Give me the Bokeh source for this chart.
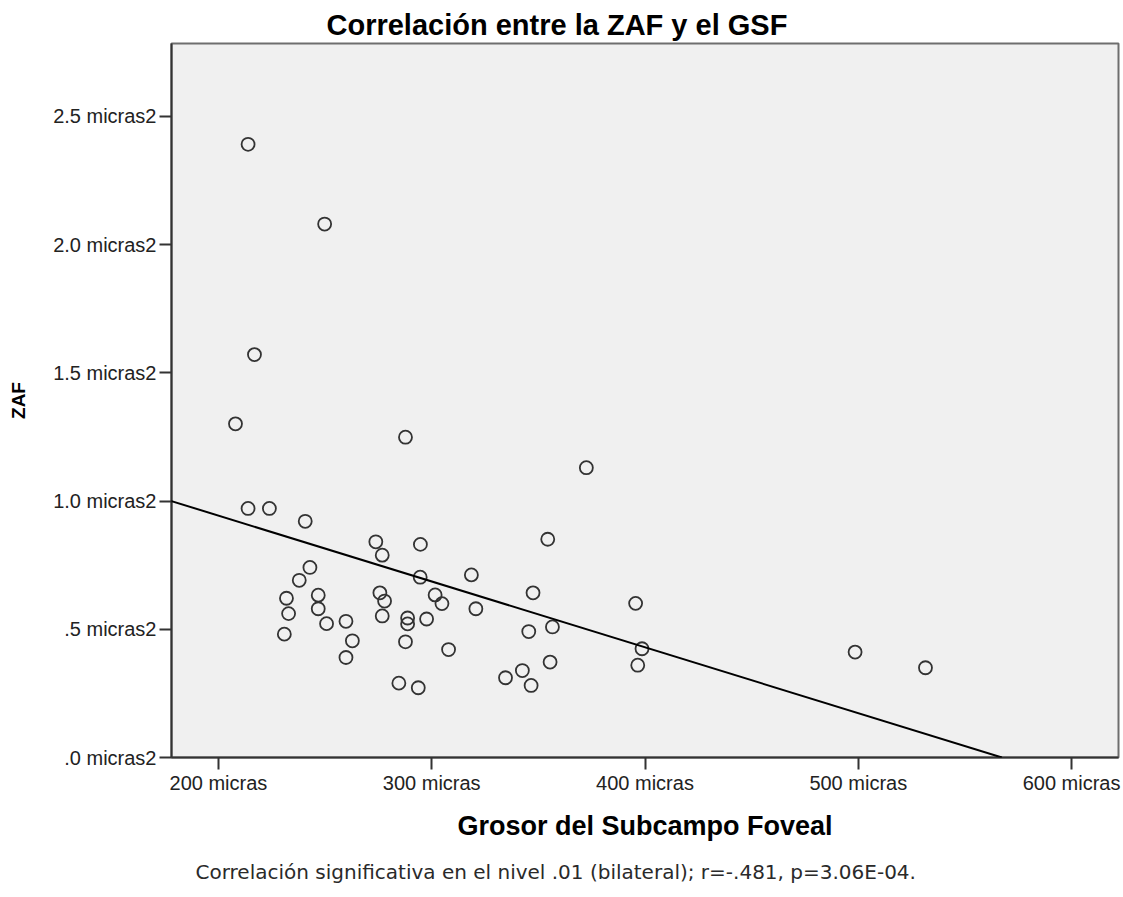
import numpy as np
from bokeh.plotting import figure
from bokeh.models import Title, FixedTicker, Range1d, Slope
from bokeh.embed import file_html
from bokeh.resources import INLINE

# Grosor del Subcampo Foveal (micras) and ZAF (micras2)
gsf = [294.7, 318.6, 242.9, 237.9, 294.6, 231.9, 246.8, 232.9, 246.8, 275.7,
       277.9, 301.6, 304.8, 320.7, 276.8, 250.7, 259.8, 288.7, 288.7, 297.6,
       230.9, 262.8, 287.7, 307.9, 259.8, 284.6, 293.7, 334.6, 372.5, 354.4,
       347.5, 395.6, 356.6, 345.5, 398.6, 396.6, 355.5, 342.5, 346.6, 498.5,
       531.5, 213.9, 249.8, 216.9, 208.0, 287.7, 213.9, 223.9, 240.7, 273.8,
       276.8]
zaf = [0.831, 0.712, 0.741, 0.691, 0.703, 0.621, 0.633, 0.561, 0.580, 0.642,
       0.610, 0.634, 0.600, 0.580, 0.552, 0.522, 0.531, 0.544, 0.521, 0.540,
       0.481, 0.455, 0.451, 0.421, 0.390, 0.290, 0.272, 0.311, 1.130, 0.851,
       0.642, 0.601, 0.509, 0.491, 0.424, 0.360, 0.372, 0.339, 0.281, 0.411,
       0.350, 2.391, 2.080, 1.571, 1.301, 1.249, 0.971, 0.971, 0.921, 0.841,
       0.789]

x_ticks = [200, 300, 400, 500, 600]
x_tick_labels = ["200 micras", "300 micras", "400 micras", "500 micras", "600 micras"]
y_ticks = [0.0, 0.5, 1.0, 1.5, 2.0, 2.5]
y_tick_labels = [".0 micras2", ".5 micras2", "1.0 micras2", "1.5 micras2", "2.0 micras2", "2.5 micras2"]

title_text = "Correlación entre la ZAF y el GSF"
x_label = "Grosor del Subcampo Foveal"
y_label = "ZAF"
footnote = "Correlación significativa en el nivel .01 (bilateral); r=-.481, p=3.06E-04."

FONT = "Liberation Sans"

p = figure(width=1123, height=897, output_backend="svg", toolbar_location=None,
           x_range=Range1d(178, 622), y_range=Range1d(0, 2.784),
           min_border_left=171, min_border_top=43, min_border_right=5,
           min_border_bottom=138, title=None)
p.background_fill_color = "#f0f0f0"
p.border_fill_color = "white"
p.outline_line_color = "#6e6e6e"
p.outline_line_width = 2
p.grid.visible = False

# axes
p.xaxis.ticker = FixedTicker(ticks=x_ticks)
p.xaxis.major_label_overrides = {t: l for t, l in zip(x_ticks, x_tick_labels)}
p.yaxis.ticker = FixedTicker(ticks=y_ticks)
p.yaxis.major_label_overrides = {t: l for t, l in zip(y_ticks, y_tick_labels)}
for ax in (p.xaxis, p.yaxis):
    ax.axis_line_color = "#333333"
    ax.axis_line_width = 2
    ax.major_tick_line_color = "#333333"
    ax.major_tick_line_width = 2
    ax.major_tick_out = 12
    ax.major_tick_in = 0
    ax.minor_tick_out = 0
    ax.minor_tick_in = 0
    ax.major_label_text_font = FONT
    ax.major_label_text_font_size = "20px"
    ax.major_label_text_color = "#222222"
    ax.axis_label_text_font = FONT
    ax.axis_label_text_font_style = "bold"
    ax.axis_label_text_color = "#000000"
p.xaxis.major_label_standoff = 2
p.yaxis.major_label_standoff = 3
p.xaxis.axis_label = x_label
p.xaxis.axis_label_text_font_size = "27px"
p.xaxis.axis_label_standoff = 14
p.yaxis.axis_label = y_label
p.yaxis.axis_label_text_font_size = "19px"
p.yaxis.axis_label_standoff = 21

# fit line
slope, intercept = np.polyfit(gsf, zaf, 1)
p.add_layout(Slope(gradient=slope, y_intercept=intercept, line_color="black", line_width=2))

# points
p.scatter(gsf, zaf, marker="circle", size=13, fill_color=None,
          line_color="#333333", line_width=1.8)

# title and footnote
p.add_layout(Title(text=title_text, align="left", offset=155, standoff=6,
                   text_font=FONT, text_font_size="29px", text_font_style="bold",
                   text_color="black"), "above")
p.add_layout(Title(text=footnote, align="left", offset=24, standoff=28,
                   text_font="DejaVu Sans", text_font_size="20px", text_font_style="normal",
                   text_color="#2a2a2a"), "below")

open("out.html", "w").write(file_html(p, INLINE))
